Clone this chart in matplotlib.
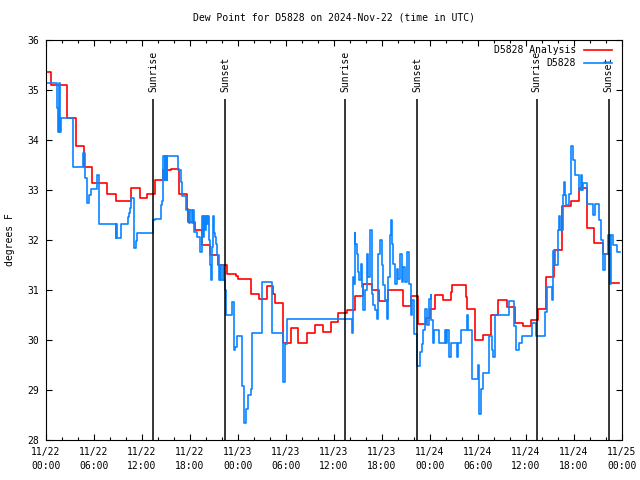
import matplotlib
matplotlib.use("Agg")
import matplotlib.pyplot as plt
from matplotlib.ticker import MultipleLocator

# hours since 2024-11-22 00:00 UTC, step starts
red_hours = [0, 0.67, 2.67, 3.7, 4.75, 5.7, 7.67, 8.7, 10.67, 11.75,
             12.58, 13.6, 14.58, 15.63, 16.6, 17.58, 17.79, 18.63, 19.46, 20.5,
             21.54, 22.58, 23.71, 24.04, 25.58, 26.63, 27.58, 28.42, 28.63, 29.67,
             30.63, 31.54, 32.58, 33.63, 34.58, 35.63, 36.54, 37.58, 38.63, 39.58,
             40.71, 41.67, 42.71, 44.58, 45.63, 46.54, 47.5, 48.0, 48.63, 49.58,
             50.58, 50.71, 52.5, 52.67, 53.63, 54.58, 55.58, 56.54, 57.58, 58.63,
             59.67, 60.58, 61.54, 62.5, 63.5, 64.54, 65.58, 66.58, 67.58, 68.54,
             69.58, 70.5, 71.6]
red_values = [35.37, 35.09, 34.44, 33.88, 33.46, 33.14, 32.92, 32.78, 33.04, 32.85,
              32.93, 33.21, 33.40, 33.43, 32.92, 32.62, 32.37, 32.20, 31.91, 31.70,
              31.50, 31.32, 31.28, 31.22, 30.92, 30.82, 31.09, 30.92, 30.75, 29.95,
              30.25, 29.95, 30.15, 30.30, 30.16, 30.37, 30.55, 30.60, 30.88, 31.12,
              31.01, 30.79, 31.01, 30.68, 30.89, 30.32, 30.45, 30.62, 30.91, 30.80,
              30.97, 31.11, 30.87, 30.62, 30.01, 30.10, 30.51, 30.81, 30.67, 30.35,
              30.28, 30.40, 30.62, 31.26, 31.80, 32.69, 32.79, 33.05, 32.25, 31.95,
              31.72, 31.15, 31.15]

blue_hours = [0.0, 1.42, 1.5, 1.6, 1.71, 1.92, 3.42, 4.67, 4.92, 5.08,
              5.42, 5.58, 6.42, 6.67, 8.71, 8.79, 8.83, 9.42, 10.25, 10.4,
              10.5, 10.6, 10.67, 11.0, 11.2, 11.42, 13.42, 13.6, 14.33, 14.5,
              14.67, 14.83, 14.92, 15.08, 15.17, 16.54, 16.83, 17.0, 17.5, 17.92,
              18.04, 18.21, 18.33, 18.46, 18.83, 19.25, 19.5, 19.67, 19.79, 19.92,
              20.04, 20.17, 20.29, 20.42, 20.54, 20.67, 20.79, 20.92, 21.04, 21.17,
              21.29, 21.42, 21.58, 21.75, 21.92, 22.08, 22.25, 22.42, 22.5, 23.3,
              23.54, 23.62, 23.92, 24.55, 24.79, 24.96, 25.29, 25.58, 25.8, 27.04,
              28.29, 29.67, 29.88, 30.08, 38.21, 38.29, 38.33, 38.42, 38.5, 38.58,
              38.67, 38.83, 39.04, 39.17, 39.33, 39.5, 39.67, 39.88, 40.08, 40.29,
              40.5, 40.71, 40.92, 41.13, 41.33, 41.54, 41.75, 41.96, 42.17, 42.38,
              42.58, 42.79, 43.0, 43.13, 43.25, 43.42, 43.63, 43.83, 44.04, 44.25,
              44.46, 44.67, 44.88, 45.08, 45.42, 45.58, 45.75, 46.0, 46.42, 46.75,
              46.96, 47.17, 47.42, 47.67, 47.92, 48.08, 48.17, 48.33, 48.45, 49.13,
              49.88, 50.0, 50.17, 50.42, 50.67, 51.33, 51.5, 51.83, 52.58, 52.79,
              53.25, 54.04, 54.17, 54.33, 54.58, 55.42, 55.75, 55.92, 56.13, 57.83,
              58.5, 58.75, 59.17, 59.46, 60.71, 61.25, 62.38, 62.58, 63.21, 63.42,
              63.63, 64.04, 64.17, 64.29, 64.67, 64.79, 64.92, 65.0, 65.42, 65.63,
              65.83, 66.13, 66.67, 66.83, 67.0, 67.17, 67.58, 68.33, 68.63, 69.13,
              69.38, 69.67, 69.88, 70.29, 70.5, 70.6, 70.92, 71.42, 71.75]
blue_values = [35.14, 34.65, 34.17, 35.14, 34.17, 34.44, 33.46, 33.75, 33.25, 32.74,
               32.90, 33.03, 33.30, 32.32, 32.05, 32.32, 32.05, 32.32, 32.45, 32.55,
               32.65, 32.78, 32.85, 31.85, 31.98, 32.15, 32.40, 32.42, 32.70, 32.77,
               33.68, 33.20, 33.68, 33.20, 33.68, 33.40, 33.17, 32.88, 32.60, 32.35,
               32.60, 32.35, 32.60, 32.17, 32.07, 31.77, 32.48, 32.07, 32.48, 32.20,
               32.48, 32.33, 32.48, 32.00, 31.50, 31.21, 31.87, 32.48, 32.13, 32.07,
               31.93, 31.70, 31.21, 31.50, 31.21, 31.50, 31.21, 31.00, 30.50, 30.77,
               29.80, 29.87, 30.08, 29.08, 28.35, 28.63, 28.90, 29.03, 30.15, 31.16,
               30.15, 29.17, 29.93, 30.42, 30.30, 30.15, 30.83, 31.27, 31.13, 32.15,
               31.93, 31.73, 31.37, 31.20, 31.53, 31.07, 30.60, 31.00, 31.73, 31.27,
               32.20, 30.93, 30.70, 30.60, 30.43, 31.73, 32.00, 31.50, 31.10, 30.80,
               30.43, 31.27, 32.10, 32.40, 31.93, 31.53, 31.13, 31.43, 31.23, 31.73,
               31.17, 31.47, 31.17, 31.77, 31.13, 30.50, 30.80, 30.13, 29.48, 29.77,
               29.93, 30.20, 30.63, 30.30, 30.83, 30.91, 30.40, 29.95, 30.21, 29.95,
               30.21, 29.95, 30.21, 29.67, 29.95, 29.67, 29.95, 30.21, 30.50, 30.21,
               29.23, 29.51, 28.53, 29.03, 29.35, 30.08, 29.80, 29.67, 30.50, 30.78,
               30.28, 29.80, 29.95, 30.08, 30.35, 30.08, 30.57, 31.07, 30.80, 31.79,
               31.50, 32.20, 32.48, 32.20, 32.90, 33.17, 32.90, 32.70, 32.93, 33.88,
               33.60, 33.30, 33.00, 33.30, 33.00, 33.13, 32.72, 32.50, 32.72, 32.40,
               32.00, 31.41, 31.73, 32.10, 31.13, 32.10, 31.90, 31.77, 31.77]

sun_hours = [13.42, 22.41, 37.42, 46.41, 61.33, 70.34]
sun_labels = ["Sunrise", "Sunset", "Sunrise", "Sunset", "Sunrise", "Sunset"]

tick_hours = list(range(0, 73, 6))
tick_labels = ["11/22\n00:00", "11/22\n06:00", "11/22\n12:00", "11/22\n18:00",
               "11/23\n00:00", "11/23\n06:00", "11/23\n12:00", "11/23\n18:00",
               "11/24\n00:00", "11/24\n06:00", "11/24\n12:00", "11/24\n18:00",
               "11/25\n00:00"]

plt.rcParams['font.family'] = ['DejaVu Sans Mono']
fs = 7

fig = plt.figure(figsize=(6.4, 4.8), dpi=100)
ax = fig.add_axes([46/640, 40/480, 576/640, 400/480])

ax.plot(red_hours, red_values, drawstyle="steps-post", color="#ff0000", lw=1.2, label="D5828 Analysis")
ax.plot(blue_hours, blue_values, drawstyle="steps-post", color="#0a84ff", lw=1.2, label="D5828")

ax.vlines(sun_hours, 28, 34.82, color="black", lw=1.1)
for h, lab in zip(sun_hours, sun_labels):
    ax.text(h, 34.97, lab, rotation=90, ha="center", va="bottom", fontsize=fs)

ax.set_xlim(0, 72)
ax.set_ylim(28, 36)
ax.set_xticks(tick_hours)
ax.set_xticklabels(tick_labels, linespacing=1.45)
ax.xaxis.set_minor_locator(MultipleLocator(2))
ax.set_yticks(range(28, 37))
ax.tick_params(which="both", direction="in", top=True, right=True, labelsize=fs)
ax.tick_params(which="major", length=4, width=0.8)
ax.tick_params(which="minor", length=2, width=0.8)
ax.tick_params(axis="x", pad=5)
ax.tick_params(axis="y", pad=5)

ax.set_title("Dew Point for D5828 on 2024-Nov-22 (time in UTC)", fontsize=fs, pad=14)
fig.text(10/640, 0.5, "degrees F", rotation=90, ha="center", va="center", fontsize=fs)

ax.legend(loc="upper right", markerfirst=False, frameon=False, fontsize=fs,
          handlelength=2.9, handletextpad=0.8, labelspacing=0.35,
          borderpad=0, borderaxespad=0, bbox_to_anchor=(1 - 10/576, 1 - 5/400))

plt.savefig("out.png", dpi=100)
